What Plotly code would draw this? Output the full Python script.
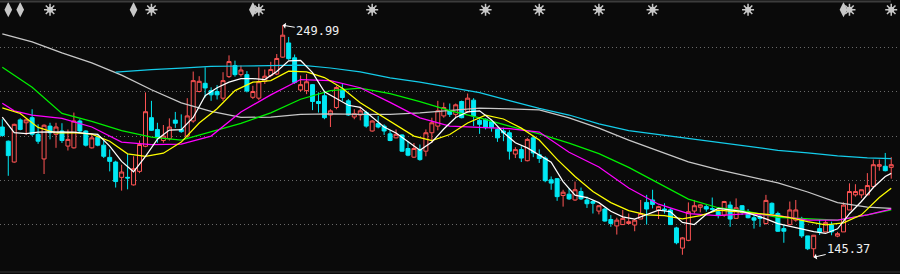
import plotly.graph_objects as go

# ---------------- data ----------------
opens = [204.1,197.7,188.3,207.3,206.0,208.3,200.8,189.7,204.5,200.8,
         202.3,195.5,194.7,206.8,202.3,194.7,199.5,195.9,190.4,188.3,
         181.4,181.4,178.0,184.1,195.4,208.3,203.0,198.0,198.8,207.2,
         203.0,200.0,206.8,220.1,223.8,220.5,220.1,217.1,226.8,231.8,
         227.7,227.7,217.5,217.1,224.7,227.3,228.0,235.6,242.0,235.3,
         220.8,220.5,223.2,215.6,218.2,209.5,212.9,221.2,215.9,208.6,
         209.5,210.6,202.3,205.6,204.5,201.0,199.2,200.5,194.4,190.5,
         194.0,193.2,201.5,204.5,209.1,211.4,209.8,215.6,211.0,216.2,
         207.1,207.6,206.5,203.0,202.3,201.5,191.9,193.9,188.9,199.2,
         191.6,190.1,180.3,180.8,173.2,173.8,171.2,175.0,171.2,170.5,
         166.2,167.1,162.4,159.5,160.1,160.6,159.9,162.6,170.1,171.2,
         166.7,167.1,166.7,158.6,149.5,153.0,166.2,167.9,168.2,167.3,
         165.9,164.4,168.9,162.9,168.6,165.9,163.2,163.6,160.6,169.7,
         165.1,158.3,160.1,162.1,162.1,155.0,149.2,158.3,156.8,159.9,
         154.9,156.8,166.7,173.5,173.5,173.5,177.3,186.4,186.4,185.9]
highs = [207.6,198.0,205.6,208.0,208.0,212.1,205.3,205.3,206.0,206.0,
         205.8,203.0,210.6,207.6,202.6,200.8,200.8,198.0,194.0,188.9,
         187.1,192.0,190.9,198.0,219.7,215.9,206.0,205.0,208.0,210.9,
         209.8,217.1,229.1,227.0,231.0,222.0,223.0,228.8,236.4,234.0,
         231.8,229.3,222.7,231.0,230.0,233.5,237.0,249.99,244.7,236.8,
         227.3,228.0,223.5,219.7,220.5,212.1,222.7,223.5,216.7,212.1,
         213.2,211.4,207.1,209.1,205.3,202.6,203.0,200.8,197.7,196.9,
         196.2,203.0,208.3,215.9,215.1,214.7,214.7,216.0,219.2,217.1,
         208.3,208.0,207.1,203.8,203.8,202.6,195.0,195.4,199.2,200.0,
         194.0,190.9,181.8,181.1,175.8,176.5,179.5,176.8,172.7,171.2,
         168.9,167.7,164.4,163.2,166.7,165.1,162.6,171.2,173.5,175.8,
         168.6,169.7,167.4,159.1,154.5,170.1,171.2,169.2,169.2,172.3,
         166.7,170.8,170.5,171.9,168.9,167.1,164.4,165.1,173.5,170.1,
         165.9,159.9,170.5,171.2,163.6,155.0,155.3,162.6,162.6,161.4,
         156.8,170.1,178.7,178.3,175.8,183.3,189.4,189.4,192.4,190.5]
lows = [199.7,182.1,188.0,202.6,200.5,200.0,196.5,182.9,198.5,194.7,
        196.9,193.5,194.4,201.5,195.3,194.4,195.4,190.1,184.1,176.8,
        175.4,176.0,177.7,183.3,195.0,202.3,197.0,197.0,198.0,203.7,
        201.5,199.2,206.0,219.7,217.4,215.9,216.5,215.9,226.2,226.8,
        226.8,219.7,216.7,216.2,223.5,226.5,227.5,235.3,234.4,223.5,
        220.1,218.9,211.7,210.6,207.6,204.1,212.1,215.9,209.1,207.6,
        207.1,203.8,202.0,203.5,200.5,197.7,199.0,192.9,190.9,190.1,
        188.9,190.9,196.9,202.6,208.3,208.6,208.6,208.0,210.6,204.5,
        201.0,203.0,202.0,197.4,197.7,189.4,190.1,188.3,188.6,190.5,
        187.9,179.2,175.8,170.8,168.2,171.2,170.8,171.2,167.6,165.1,
        164.7,161.4,159.1,155.6,159.9,160.1,157.1,162.6,160.1,167.4,
        162.6,165.1,159.9,151.2,146.5,152.6,165.1,165.6,165.9,165.9,
        162.9,163.6,159.1,162.6,164.4,162.9,158.3,159.1,160.1,164.7,
        156.8,151.9,159.9,161.4,154.1,148.6,145.37,155.4,156.8,155.3,
        154.4,156.8,166.7,172.7,172.0,173.5,176.5,184.4,184.1,180.8]
closes = [200.3,191.2,205.3,203.0,207.3,200.8,197.7,204.9,201.5,204.1,
          198.0,198.5,206.8,202.3,195.9,199.2,195.9,190.9,188.6,179.5,
          183.8,181.1,185.3,196.2,211.0,202.6,199.2,200.0,204.1,205.8,
          202.0,209.1,225.0,224.7,221.7,218.6,218.6,225.0,233.6,227.7,
          229.8,220.3,220.1,224.5,227.0,230.0,235.0,245.5,234.9,224.2,
          223.2,224.5,215.6,214.7,208.3,211.4,221.9,217.4,209.5,210.1,
          211.4,204.5,206.8,204.1,202.3,198.0,200.8,193.2,191.4,194.4,
          189.4,201.5,206.0,211.4,212.9,209.8,214.1,208.3,217.1,209.1,
          205.3,203.8,203.8,199.2,201.5,193.2,193.9,190.1,198.5,192.4,
          189.9,179.9,178.8,172.7,174.7,171.7,175.8,171.7,169.5,169.7,
          168.6,161.7,160.6,162.1,162.9,161.4,162.1,165.1,167.1,169.2,
          168.2,166.7,160.1,151.9,154.1,165.9,168.6,169.0,167.1,167.0,
          164.4,170.5,162.6,167.7,165.6,163.2,162.1,162.9,171.0,165.1,
          157.1,157.1,166.7,166.7,155.0,149.2,155.3,156.8,161.0,156.8,
          156.0,168.9,175.0,175.0,175.8,177.7,187.1,187.1,184.4,187.1]

# moving-average lines (white, yellow, magenta, green, gray, cyan)
ma_white = [208.6,201.6,201.1,201.8,201.9,201.7,201.8,201.2,200.8,195.5,
            188.6,183.9,190.9,198.6,202.7,202.9,208.4,218.2,221.8,224.3,
            225.9,225.9,225.5,229.1,233.9,234.1,228.6,220.0,216.8,213.9,
            213.0,208.6,204.1,201.4,197.7,193.6,197.3,203.2,208.4,210.9,
            211.4,207.3,201.6,197.0,194.7,191.6,188.2,179.5,173.4,172.3,
            170.0,166.1,163.6,162.6,164.5,166.6,165.9,161.1,160.1,164.8,
            167.4,166.6,166.1,164.5,162.7,160.5,159.3,157.9,156.9,156.1,
            158.2,165.0,170.5,176.8,181.8,183.2]
ma_yellow = [212.7,210.2,203.9,201.4,201.6,200.9,197.7,192.0,190.9,192.3,
             197.3,205.9,212.3,220.5,224.3,225.0,229.3,228.9,226.4,221.6,
             215.0,210.0,205.2,200.0,198.0,200.7,205.9,209.4,207.7,203.6,
             198.2,189.5,181.8,175.0,170.0,166.4,164.5,164.1,162.7,164.1,
             166.6,166.1,165.3,164.5,163.2,161.4,160.0,160.9,164.5,172.3,
             176.5]
ma_magenta = [214.8,211.4,209.5,208.0,204.1,197.3,196.2,196.4,200.0,210.9,
              218.6,225.5,225.0,221.8,215.2,208.2,204.5,203.9,203.4,201.8,
              192.7,186.1,176.6,169.3,165.0,164.1,165.0,164.1,162.1,162.1,
              164.5,167.1]
ma_green = [231.0,222.0,210.2,206.6,202.5,199.5,198.2,202.0,205.7,210.5,
            216.6,220.5,221.6,219.1,215.5,211.5,208.2,204.5,201.0,196.8,
            192.1,185.9,178.6,171.6,167.7,165.9,163.4,162.6,162.1,164.5,
            166.7]
ma_gray = [246.1,242.5,237.5,233.0,227.5,220.9,215.0,211.1,208.4,208.6,
           209.8,210.0,209.8,209.8,210.5,211.4,212.6,212.3,211.8,208.2,
           203.6,198.2,193.2,188.4,184.9,182.0,178.9,174.8,170.0,168.0,
           167.4]
ma_cyan = [228.8,230.0,230.6,231.4,231.6,231.8,232.0,230.7,228.9,226.2,
           224.3,222.0,219.6,216.0,212.5,209.5,205.5,202.5,200.7,198.7,
           196.9,195.3,193.6,192.4,191.1,190.2,189.8]

# info-marker positions along the top (candle indices)
marks_arrow = [1, 3, 22, 42, 141]
marks_star = [8, 25, 43, 62, 81, 90, 100, 109, 125, 142, 149]

high_label = "249.99"
low_label = "145.37"

# ---------------- figure ----------------
n = len(opens)
idx = list(range(n))
white_idx = list(range(0, n - 1, 2)) + [n - 1]
yellow_idx = list(range(0, n - 1, 3)) + [n - 1]
step5 = list(range(0, n - 1, 5)) + [n - 1]
magenta_idx = [0, 2] + step5[1:]
green_idx = step5
gray_idx = step5
cyan_idx = [19] + step5[5:]

BG = "#0A0A0A"
RED = "#FF5454"
CYAN = "#00E8F4"
ICON = "#C8C8C8"

fig = go.Figure()
fig.add_trace(go.Candlestick(
    x=idx, open=opens, high=highs, low=lows, close=closes,
    increasing=dict(line=dict(color=RED, width=1), fillcolor=BG),
    decreasing=dict(line=dict(color=CYAN, width=1), fillcolor=CYAN),
    whiskerwidth=0, hoverinfo="skip"))

for xs, ys, col in [(gray_idx, ma_gray, "#C8C8C8"),
                    (cyan_idx, ma_cyan, "#14CCEA"),
                    (green_idx, ma_green, "#00F000"),
                    (magenta_idx, ma_magenta, "#FF00FF"),
                    (yellow_idx, ma_yellow, "#FFFF00"),
                    (white_idx, ma_white, "#FFFFFF")]:
    fig.add_trace(go.Scatter(x=xs, y=ys, mode="lines",
                             line=dict(color=col, width=1.25),
                             hoverinfo="skip"))

ICON_Y = 257.0
fig.add_trace(go.Scatter(x=marks_arrow, y=[ICON_Y] * len(marks_arrow), mode="markers",
                         marker=dict(symbol="diamond-tall", size=11, color=ICON),
                         hoverinfo="skip"))
fig.add_trace(go.Scatter(x=marks_star, y=[ICON_Y] * len(marks_star), mode="markers",
                         marker=dict(symbol="circle", size=6, color=ICON),
                         hoverinfo="skip"))
fig.add_trace(go.Scatter(x=marks_star, y=[ICON_Y] * len(marks_star), mode="markers",
                         marker=dict(symbol="asterisk-open", size=10, color=ICON,
                                     line=dict(color=ICON, width=1.5)),
                         hoverinfo="skip"))

hi_i = max(idx, key=lambda k: highs[k])
lo_i = min(idx, key=lambda k: lows[k])
fig.add_annotation(x=hi_i, y=highs[hi_i], text=high_label, showarrow=True,
                   ax=35, ay=6, arrowhead=1, arrowsize=1, arrowwidth=1,
                   arrowcolor="#FFFFFF",
                   font=dict(family="DejaVu Sans Mono", size=12, color="#F0F0F0"))
fig.add_annotation(x=lo_i, y=lows[lo_i], text=low_label, showarrow=True,
                   ax=35, ay=-8, arrowhead=1, arrowsize=1, arrowwidth=1,
                   arrowcolor="#FFFFFF",
                   font=dict(family="DejaVu Sans Mono", size=12, color="#F0F0F0"))

# frame lines
fig.add_shape(type="line", xref="paper", yref="paper", x0=0, x1=891 / 900,
              y0=1 - 1.5 / 274, y1=1 - 1.5 / 274, line=dict(color="#3C3C3C", width=2))
fig.add_shape(type="line", xref="paper", yref="paper", x0=0, x1=1,
              y0=2 / 274, y1=2 / 274, line=dict(color="#333333", width=1))

fig.update_layout(
    width=900, height=274, margin=dict(l=0, r=0, t=0, b=0),
    paper_bgcolor=BG, plot_bgcolor=BG, showlegend=False,
    boxgap=0.05,
    xaxis=dict(range=[-0.386, 150.47], showgrid=False, zeroline=False,
               showticklabels=False, ticks="", rangeslider=dict(visible=False),
               fixedrange=True),
    yaxis=dict(range=[137.82, 261.36], tickvals=[160, 180, 200, 220, 240],
               showticklabels=False, ticks="", zeroline=False,
               gridcolor="#6A6A6A", gridwidth=1, griddash="1px,3px",
               fixedrange=True),
)

fig.write_html("out.html")
